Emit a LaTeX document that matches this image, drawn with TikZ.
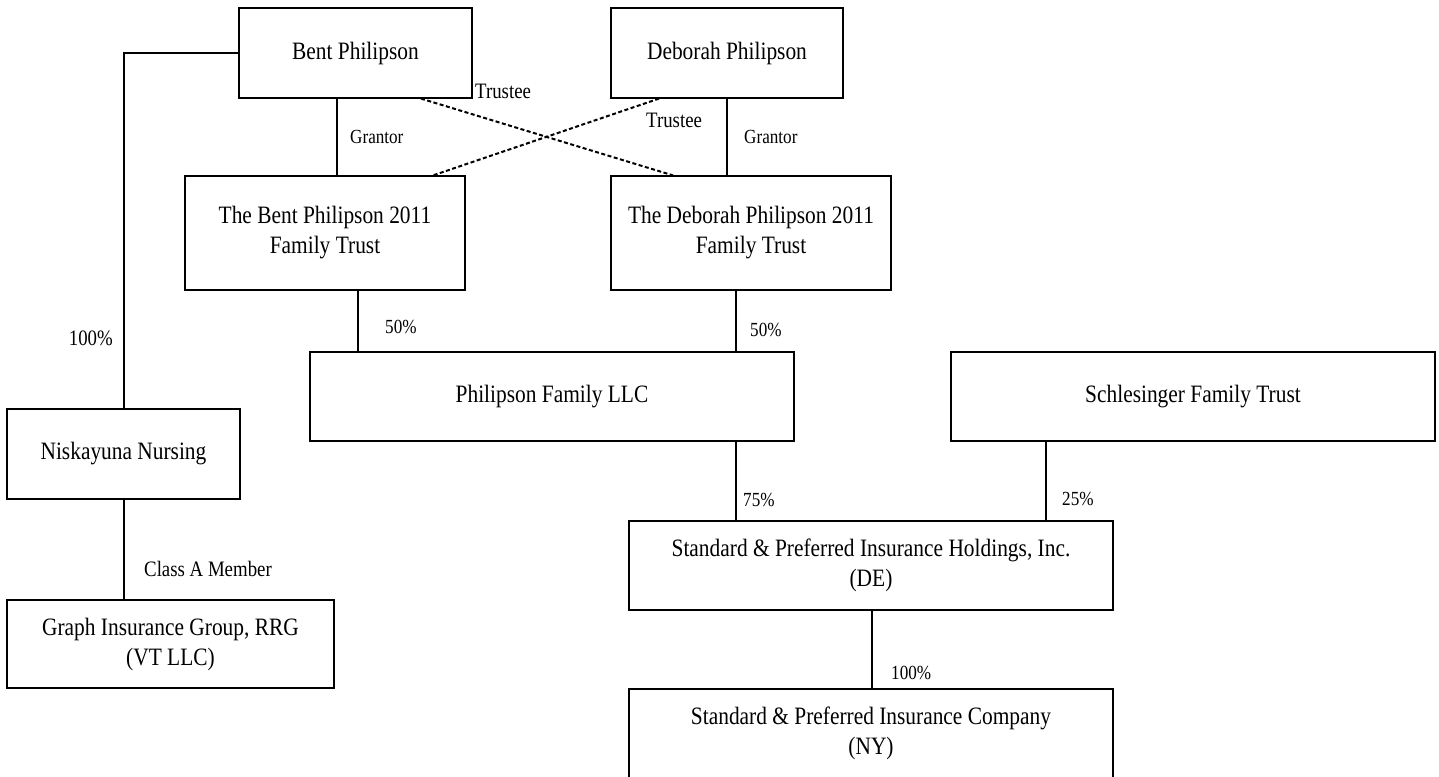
\documentclass[tikz,border=0pt]{standalone}
\usepackage{fontspec}
\setmainfont{Liberation Serif}[FakeStretch=0.856]
\begin{document}
\begin{tikzpicture}[x=1pt,y=-1pt,
  entity/.style={draw=black,line width=1.2pt,align=center,inner sep=0pt,
    font=\fontsize{25}{30}\selectfont},
  conn/.style={draw=black,line width=2pt},
  trusteeline/.style={draw=black,line width=2pt,dash pattern=on 4pt off 2.5pt},
  lbl/.style={inner sep=0pt,anchor=west,font=\fontsize{20}{24}\selectfont},
  biglbl/.style={inner sep=0pt,anchor=west,font=\fontsize{22}{26}\selectfont}]
\useasboundingbox (0,0) rectangle (1439,776);
% entities
\node[entity,minimum width=233pt,minimum height=90pt] (bent) at (355.5,53) {Bent Philipson};
\node[entity,minimum width=232pt,minimum height=90pt] (deb) at (727,53) {Deborah Philipson};
\node[entity,minimum width=280pt,minimum height=114pt] (btrust) at (325,233) {The Bent Philipson 2011\\Family Trust};
\node[entity,minimum width=280pt,minimum height=114pt] (dtrust) at (751,233) {The Deborah Philipson 2011\\Family Trust};
\node[entity,minimum width=484pt,minimum height=89pt] (llc) at (552,396.5) {Philipson Family LLC};
\node[entity,minimum width=484pt,minimum height=89pt] (sch) at (1193,396.5) {Schlesinger Family Trust};
\node[entity,minimum width=233pt,minimum height=90pt] (nisk) at (123.5,454) {Niskayuna Nursing};
\node[entity,minimum width=327pt,minimum height=88pt] (graph) at (170.5,644) {Graph Insurance Group, RRG\\(VT LLC)};
\node[entity,minimum width=484pt,minimum height=89pt] (hold) at (871,565.5) {Standard \& Preferred Insurance Holdings, Inc.\\(DE)};
\node[entity,minimum width=484pt,minimum height=89pt] (comp) at (871,733.5) {Standard \& Preferred Insurance Company\\(NY)};
% connectors
\draw[conn] (bent.west) -| (nisk.north);
\draw[conn] ([xshift=-18.5pt]bent.south) -- ([xshift=12pt]btrust.north);
\draw[conn] (deb.south) -- ([xshift=-24pt]dtrust.north);
\draw[trusteeline] ([xshift=65.5pt]bent.south) -- ([xshift=-78pt]dtrust.north);
\draw[trusteeline] ([xshift=-68pt]deb.south) -- ([xshift=108pt]btrust.north);
\draw[conn] ([xshift=33pt]btrust.south) -- ([xshift=-194pt]llc.north);
\draw[conn] ([xshift=-15pt]dtrust.south) -- ([xshift=184pt]llc.north);
\draw[conn] ([xshift=184pt]llc.south) -- ([xshift=-135pt]hold.north);
\draw[conn] ([xshift=-147pt]sch.south) -- ([xshift=175pt]hold.north);
\draw[conn] ([xshift=1pt]hold.south) -- ([xshift=1pt]comp.north);
\draw[conn] (nisk.south) -- ([xshift=-47pt]graph.north);
% labels
\node[biglbl] (t1) at (475,91) {Trustee};
\node[biglbl] (t2) at (646,120) {Trustee};
\node[lbl] (g1) at (350,137) {Grantor};
\node[lbl] (g2) at (744,137) {Grantor};
\node[biglbl,anchor=east] (p100a) at (113,338) {100\%};
\node[lbl] (p50a) at (385,327) {50\%};
\node[lbl] (p50b) at (750,330) {50\%};
\node[lbl] (p75) at (743,500) {75\%};
\node[lbl] (p25) at (1062,499) {25\%};
\node[lbl] (p100b) at (891,673) {100\%};
\node[biglbl] (cam) at (144,569) {Class A Member};
\end{tikzpicture}
\end{document}
